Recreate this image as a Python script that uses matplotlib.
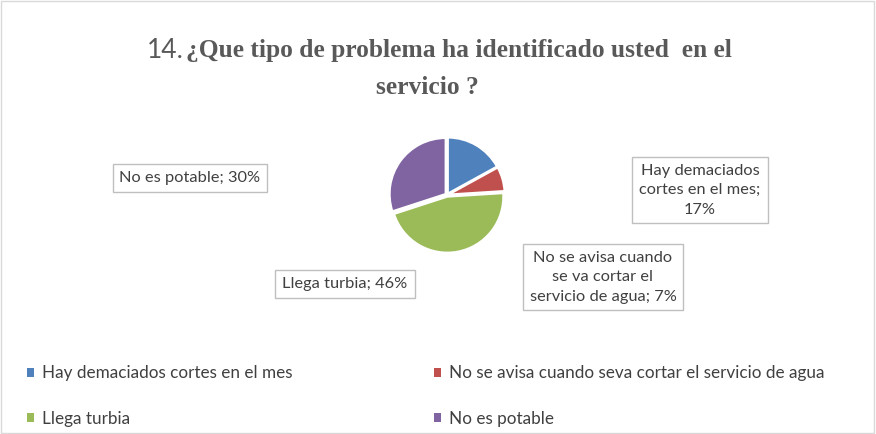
import matplotlib.pyplot as plt
from matplotlib.patches import Patch, Rectangle

categorias = ['Hay demaciados cortes en el mes',
              'No se avisa cuando seva cortar el servicio de agua',
              'Llega turbia',
              'No es potable']
porcentajes = [17, 7, 46, 30]
colores = ['#4F81BD', '#C0504D', '#9BBB59', '#8064A2']
etiquetas = ['Hay demaciados\ncortes en el mes;\n17%',
             'No se avisa cuando\nse va cortar el\nservicio de agua; 7%',
             'Llega turbia; 46%',
             'No es potable; 30%']
# posiciones de las etiquetas (px desde arriba-izquierda)
pos_etiquetas = [(700, 190), (603, 277), (345, 284), (190, 178)]

W, H = 876, 434
fig = plt.figure(figsize=(W / 100, H / 100), dpi=100)
fig.patch.set_facecolor('white')
fig.patches.append(Rectangle((0.001, 0.002), 0.997, 0.996, transform=fig.transFigure,
                             fill=False, edgecolor='#d9d9d9', linewidth=1))

fuente = ['Lato', 'DejaVu Sans']
gris = '#404040'

# titulo
fig.text(147 / W, 1 - 50 / H, '14.', fontsize=19, color='#595959', family=fuente,
         ha='left', va='center')
fig.text(186 / W, 1 - 50 / H, '¿Que tipo de problema ha identificado usted  en el',
         fontsize=18.4, color='#595959', family='Liberation Serif', weight='bold',
         ha='left', va='center')
fig.text(427 / W, 1 - 87 / H, 'servicio ?', fontsize=18.4, color='#595959',
         family='Liberation Serif', weight='bold', ha='center', va='center')

# pastel
cx, cy, r = 447, 195, 56
lado = 2.2 * r
ax = fig.add_axes([(cx - lado / 2) / W, (H - cy - lado / 2) / H, lado / W, lado / H])
ax.pie(porcentajes, colors=colores, startangle=90, counterclock=False,
       explode=[0.03] * 4, wedgeprops=dict(edgecolor='white', linewidth=1.5))
ax.set_xlim(-1.1, 1.1)
ax.set_ylim(-1.1, 1.1)
ax.set_aspect('equal')
ax.axis('off')

for txt, (x, y) in zip(etiquetas, pos_etiquetas):
    fig.text(x / W, 1 - y / H, txt, fontsize=11.8, color=gris, family=fuente,
             ha='center', va='center', linespacing=1.5,
             bbox=dict(boxstyle='square,pad=0.42', facecolor='white',
                       edgecolor='#bfbfbf', linewidth=1))

# leyenda (orden por filas como en el original)
orden = [0, 2, 1, 3]
handles = [Patch(facecolor=colores[i], edgecolor='none') for i in orden]
fig.legend(handles, [categorias[i] for i in orden], ncol=2, loc='upper left',
           bbox_to_anchor=(12 / W, 1 - 350 / H), frameon=False,
           prop={'family': fuente, 'size': 12.3}, labelcolor=gris,
           handlelength=0.4, handleheight=0.4, handletextpad=0.45,
           columnspacing=8.3, labelspacing=1.72)

fig.savefig('out.png', dpi=100)
